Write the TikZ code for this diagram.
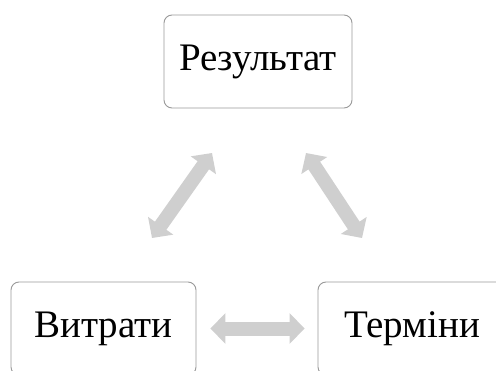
\documentclass[tikz,border=0pt]{standalone}
\usepackage{fontspec}
\setmainfont{Liberation Serif}
\usetikzlibrary{arrows.meta}
\begin{document}
\begin{tikzpicture}[x=1pt,y=-1pt,
  box/.style={draw=gray!80, line width=0.9pt, rounded corners=8pt, fill=white,
    minimum width=188pt, minimum height=93pt, inner sep=0pt,
    font=\fontsize{39}{45}\selectfont},
  link/.style={draw=gray!38, line width=14pt,
    {Triangle[length=15pt,width=30pt]}-{Triangle[length=15pt,width=30pt]}}]
  \useasboundingbox (0,0) rectangle (496,370);
  \clip (0,0) rectangle (496,370);
  \fill[white] (0,0) rectangle (496,370);
  % three boxes
  \node[box] (res) at (258,61.5) {Результат};
  \node[box, minimum width=185pt] (vit) at (103.5,328.5) {Витрати};
  \node[box] (term) at (412,328.5) {Терміни};
  % ends of the slanted links
  \coordinate (l1) at (152,238);
  \coordinate (l2) at (212,153);
  \coordinate (r1) at (306,153);
  \coordinate (r2) at (362,238);
  % two-way links
  \draw[link] (l1) -- (l2);
  \draw[link] (r1) -- (r2);
  \draw[link, shorten <=14pt, shorten >=13pt] (vit.east) -- (term.west);
\end{tikzpicture}
\end{document}
